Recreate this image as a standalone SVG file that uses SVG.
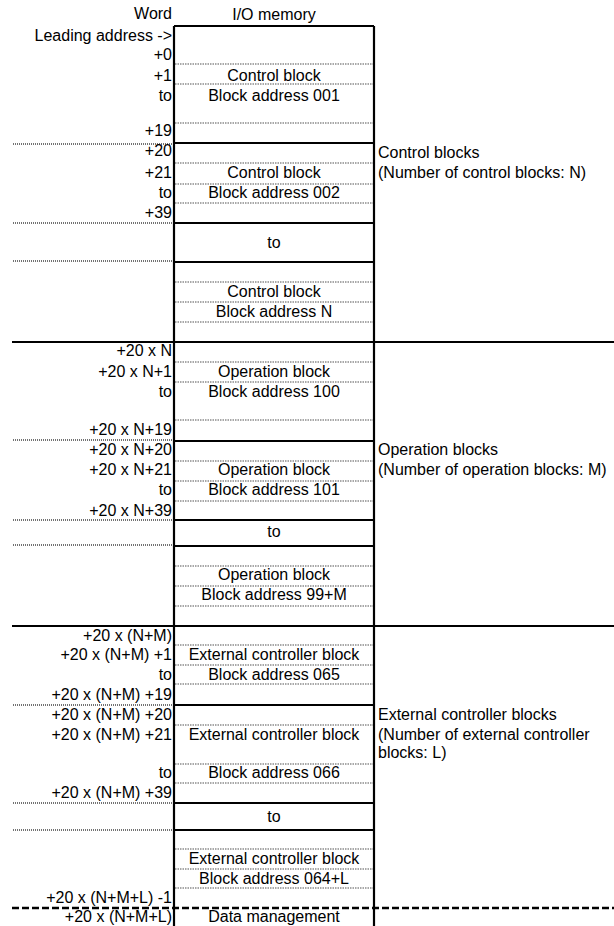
<svg xmlns="http://www.w3.org/2000/svg" width="614" height="926" viewBox="0 0 614 926">
<style>
text{font-family:"Liberation Sans",Arial,sans-serif;font-size:16px;fill:#000}
.l{text-anchor:end}
.c{text-anchor:middle}
.thick{stroke:#000;stroke-width:2.2;fill:none}
.dot{stroke:#8c8c8c;stroke-width:1.5;stroke-dasharray:1.5 1;fill:none}
.ldot{stroke:#444;stroke-width:1.3;stroke-dasharray:1 1;fill:none}
.dash{stroke:#000;stroke-width:2.5;stroke-dasharray:7 3;fill:none}
</style>
<rect width="614" height="926" fill="#fff"/>
<g id="header">
<text class="l" x="172" y="19">Word</text>
<text class="c" x="274" y="20">I/O memory</text>
<text class="l" x="172" y="41">Leading address -&gt;</text>
</g>
<g id="connectors">
<path class="dot" d="M175 64H373M175 84H373M175 123H373M175 163H373M175 184H373M175 203H373M175 282H373M175 302H373M175 322H373M175 362H373M175 382H373M175 420H373M175 461H373M175 481H373M175 501H373M175 566H373M175 586H373M175 606H373M175 645H373M175 665H373M175 684H373M175 725H373M175 764H373M175 783H373M175 849H373M175 869H373M175 888H373"/>
<path class="ldot" d="M13 144H173M13 223H173M13 261H173M13 440H173M13 520H173M13 545H173M13 705H173M13 803H173M13 830H173"/>
<path class="thick" d="M174 26H374M174 143H374M174 223H374M174 262H374M174 441H374M174 520H374M174 546H374M174 705H374M174 803H374M174 830H374"/>
<path class="thick" d="M12 342H614M12 626H614"/>
<path class="dash" d="M12 908H614"/>
<path class="thick" d="M174 26V926M374 26V926"/>
</g>
<g id="control-blocks">
<text class="l" x="172" y="60">+0</text>
<text class="l" x="172" y="81">+1</text>
<text class="l" x="172" y="101">to</text>
<text class="l" x="172" y="136">+19</text>
<text class="c" x="274" y="81">Control block</text>
<text class="c" x="274" y="101">Block address 001</text>
<text class="l" x="172" y="156">+20</text>
<text class="l" x="172" y="178">+21</text>
<text class="l" x="172" y="198">to</text>
<text class="l" x="172" y="218">+39</text>
<text class="c" x="274" y="178">Control block</text>
<text class="c" x="274" y="198">Block address 002</text>
<text class="c" x="274" y="248">to</text>
<text class="c" x="274" y="297">Control block</text>
<text class="c" x="274" y="317">Block address N</text>
<text x="378" y="158">Control blocks</text>
<text x="378" y="178">(Number of control blocks: N)</text>
</g>
<g id="operation-blocks">
<text class="l" x="172" y="356">+20 x N</text>
<text class="l" x="172" y="377">+20 x N+1</text>
<text class="l" x="172" y="397">to</text>
<text class="l" x="172" y="435">+20 x N+19</text>
<text class="c" x="274" y="377">Operation block</text>
<text class="c" x="274" y="397">Block address 100</text>
<text class="l" x="172" y="455">+20 x N+20</text>
<text class="l" x="172" y="475">+20 x N+21</text>
<text class="l" x="172" y="495">to</text>
<text class="l" x="172" y="516">+20 x N+39</text>
<text class="c" x="274" y="475">Operation block</text>
<text class="c" x="274" y="495">Block address 101</text>
<text class="c" x="274" y="537">to</text>
<text class="c" x="274" y="580">Operation block</text>
<text class="c" x="274" y="600">Block address 99+M</text>
<text x="378" y="455">Operation blocks</text>
<text x="378" y="475">(Number of operation blocks: M)</text>
</g>
<g id="external-controller-blocks">
<text class="l" x="172" y="641">+20 x (N+M)</text>
<text class="l" x="172" y="660">+20 x (N+M) +1</text>
<text class="l" x="172" y="680">to</text>
<text class="l" x="172" y="700">+20 x (N+M) +19</text>
<text class="c" x="274" y="660">External controller block</text>
<text class="c" x="274" y="680">Block address 065</text>
<text class="l" x="172" y="720">+20 x (N+M) +20</text>
<text class="l" x="172" y="740">+20 x (N+M) +21</text>
<text class="l" x="172" y="778">to</text>
<text class="l" x="172" y="798">+20 x (N+M) +39</text>
<text class="c" x="274" y="740">External controller block</text>
<text class="c" x="274" y="778">Block address 066</text>
<text class="c" x="274" y="822">to</text>
<text class="c" x="274" y="864">External controller block</text>
<text class="c" x="274" y="884">Block address 064+L</text>
<text class="l" x="172" y="903">+20 x (N+M+L) -1</text>
<text x="378" y="720">External controller blocks</text>
<text x="378" y="740">(Number of external controller</text>
<text x="378" y="758">blocks: L)</text>
</g>
<g id="data-management">
<text class="l" x="172" y="922">+20 x (N+M+L)</text>
<text class="c" x="274" y="922">Data management</text>
</g>
</svg>
